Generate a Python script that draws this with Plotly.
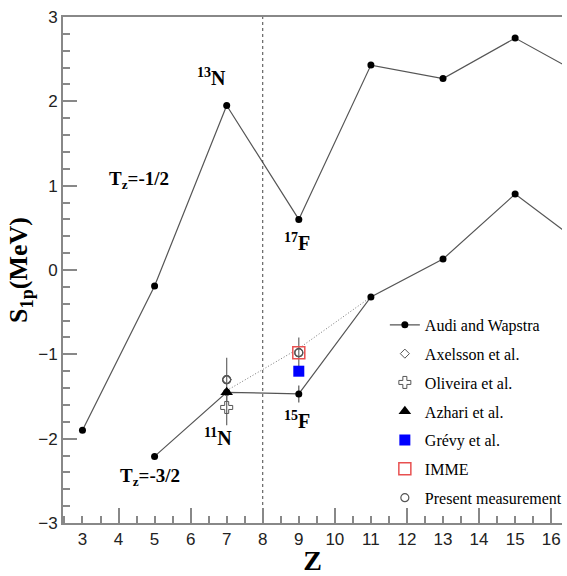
import plotly.graph_objects as go

# ---- data ----
z_tz_half = [3, 5, 7, 9, 11, 13, 15, 17]
s1p_tz_half = [-1.90, -0.19, 1.95, 0.60, 2.43, 2.27, 2.75, 2.28]

z_tz_3half = [5, 7, 9, 11, 13, 15, 17]
s1p_tz_3half = [-2.21, -1.45, -1.47, -0.32, 0.13, 0.90, 0.26]
s1p_tz_3half_err = [0, 0, 0.10, 0, 0, 0, 0]

axelsson_z = [7]
axelsson_s = [-1.30]
oliveira_z = [7]
oliveira_s = [-1.63]
oliveira_err = [0.21]
azhari_z = [7]
azhari_s = [-1.45]
grevy_z = [9]
grevy_s = [-1.20]
imme_z = [9]
imme_s = [-0.98]
present_z = [7, 9]
present_s = [-1.30, -0.98]
present_err = [0.26, 0.18]

trend_z = [7, 9, 11]
trend_s = [-1.43, -0.93, -0.32]

divider_z = 8
y_range = [-3, 3]
x_range = [2.46, 16.30]
x_labels = list(range(3, 17))
x_major = list(range(4, 17, 2))

SERIF = "Liberation Serif, Times New Roman, serif"
SANS = "Liberation Sans, Arial, sans-serif"
AXC = "#888888"
LINEC = "#555555"

fig = go.Figure()

# dashed divider at Z=8 (on the overlay axis that carries the long ticks)
fig.add_trace(go.Scatter(x=[divider_z, divider_z], y=y_range, mode="lines",
                         line=dict(color="#444444", width=1, dash="3px,3px"),
                         xaxis="x2", showlegend=False, hoverinfo="skip"))

# dotted trend line
fig.add_trace(go.Scatter(x=trend_z, y=trend_s, mode="lines",
                         line=dict(color="#777777", width=1, dash="1px,2px"),
                         showlegend=False, hoverinfo="skip"))

# Audi and Wapstra
fig.add_trace(go.Scatter(x=z_tz_half, y=s1p_tz_half, mode="lines+markers",
                         line=dict(color=LINEC, width=1.2),
                         marker=dict(color="black", size=7),
                         name="Audi and Wapstra", legendgroup="a"))
fig.add_trace(go.Scatter(x=z_tz_3half, y=s1p_tz_3half, mode="lines+markers",
                         line=dict(color=LINEC, width=1.2),
                         marker=dict(color="black", size=7),
                         error_y=dict(type="data", array=s1p_tz_3half_err,
                                      color=LINEC, thickness=1.2, width=0),
                         showlegend=False, legendgroup="a"))

fig.add_trace(go.Scatter(x=axelsson_z, y=axelsson_s, mode="markers",
                         marker=dict(symbol="diamond-open", color="#555555", size=7,
                                     line=dict(width=1)),
                         name="Axelsson et al.", legendgroup="b"))
fig.add_trace(go.Scatter(x=oliveira_z, y=oliveira_s, mode="markers",
                         marker=dict(symbol="cross-open", color="#555555", size=10,
                                     line=dict(width=1)),
                         error_y=dict(type="data", array=oliveira_err,
                                      color="#666666", thickness=1.2, width=0),
                         name="Oliveira et al.", legendgroup="c"))
fig.add_trace(go.Scatter(x=present_z, y=present_s, mode="markers",
                         marker=dict(symbol="circle-open", color="#555555", size=8,
                                     line=dict(width=1.2)),
                         error_y=dict(type="data", array=present_err,
                                      color="#666666", thickness=1.2, width=0),
                         showlegend=False, legendgroup="g"))
fig.add_trace(go.Scatter(x=azhari_z, y=azhari_s, mode="markers",
                         marker=dict(symbol="triangle-up", color="black", size=11),
                         name="Azhari et al.", legendgroup="d"))
fig.add_trace(go.Scatter(x=grevy_z, y=grevy_s, mode="markers",
                         marker=dict(symbol="square", color="#0000ff", size=11),
                         name="Grévy et al.", legendgroup="e"))
fig.add_trace(go.Scatter(x=imme_z, y=imme_s, mode="markers",
                         marker=dict(symbol="square-open", color="#e85050", size=12,
                                     line=dict(width=1.5)),
                         name="IMME", legendgroup="f"))
fig.add_trace(go.Scatter(x=present_z, y=present_s, mode="markers",
                         marker=dict(symbol="circle-open", color="#555555", size=8,
                                     line=dict(width=1.2)),
                         name="Present measurement", legendgroup="g"))

# text labels
labels = [
    (6.57, 2.29, "<b><sup>13</sup>N</b>", 20),
    (8.96, 0.33, "<b><sup>17</sup>F</b>", 20),
    (8.96, -1.78, "<b><sup>15</sup>F</b>", 20),
    (6.76, -1.98, "<b><sup>11</sup>N</b>", 20),
    (4.57, 1.07, "<b>T<sub>z</sub>=-1/2</b>", 19),
    (4.87, -2.46, "<b>T<sub>z</sub>=-3/2</b>", 19),
]
for x, y, t, s in labels:
    fig.add_annotation(x=x, y=y, text=t, showarrow=False,
                       font=dict(family=SERIF, size=s, color="black"))

fig.update_layout(
    width=567, height=576,
    margin=dict(l=63, r=0, t=17, b=53),
    plot_bgcolor="white", paper_bgcolor="white",
    font=dict(family=SERIF, color="black"),
    legend=dict(x=0.645, y=0.425, xanchor="left", yanchor="top",
                bgcolor="rgba(0,0,0,0)", tracegroupgap=5,
                font=dict(family=SERIF, size=16, color="black")),
    xaxis=dict(range=x_range, showline=True, linecolor=AXC, linewidth=2, mirror=True,
               showgrid=False, zeroline=False,
               tickmode="array", tickvals=x_labels, ticktext=[str(v) for v in x_labels],
               ticks="inside", ticklen=7, tickcolor=AXC, tickwidth=1.5,
               minor=dict(dtick=0.5, tick0=0, ticks="inside", ticklen=7,
                          tickcolor=AXC, tickwidth=1.5, showgrid=False),
               tickfont=dict(family=SANS, size=17, color="#222222"),
               title=dict(text="<b>Z</b>", font=dict(family=SERIF, size=28, color="black"),
                          standoff=5)),
    xaxis2=dict(range=x_range, overlaying="x", anchor="y", side="bottom",
                showline=False, showgrid=False, zeroline=False,
                tickmode="array", tickvals=x_major, showticklabels=False,
                ticks="inside", ticklen=15, tickcolor=AXC, tickwidth=1.5),
    yaxis=dict(range=y_range, showline=True, linecolor=AXC, linewidth=2, mirror=False,
               showgrid=False, zeroline=False, dtick=1, tick0=0,
               ticks="inside", ticklen=14, tickcolor=AXC, tickwidth=1.5,
               minor=dict(dtick=0.2, tick0=0, ticks="inside", ticklen=7,
                          tickcolor=AXC, tickwidth=1.5, showgrid=False),
               tickfont=dict(family=SANS, size=17, color="#222222"),
               title=dict(text="<b>S<sub>1p</sub>(MeV)</b>",
                          font=dict(family=SERIF, size=26, color="black"),
                          standoff=3)),
)

fig.write_html("out.html")
